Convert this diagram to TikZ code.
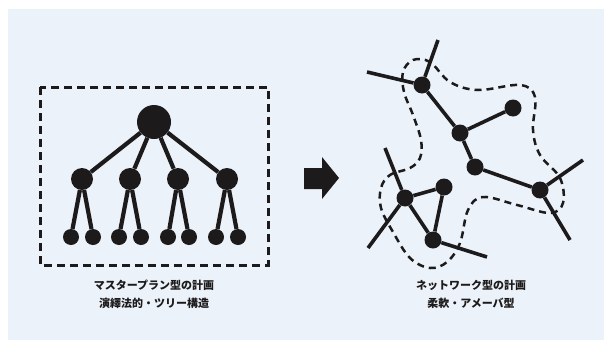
\documentclass[tikz,border=0pt]{standalone}
\usepackage{fontspec}
\newfontfamily\jp{Noto Sans CJK JP}
\definecolor{panel}{RGB}{236,242,250}
\definecolor{ink}{RGB}{28,26,26}
\tikzset{
  root/.style={circle,fill=ink,inner sep=0pt,minimum size=34pt},
  mid/.style={circle,fill=ink,inner sep=0pt,minimum size=22pt},
  leaf/.style={circle,fill=ink,inner sep=0pt,minimum size=16pt},
  net/.style={circle,fill=ink,inner sep=0pt,minimum size=17pt},
  treeedge/.style={draw=ink,line width=4.2pt},
  netedge/.style={draw=ink,line width=3.6pt},
  boxdash/.style={draw=ink,line width=3pt,dash pattern=on 8pt off 5pt},
  blobdash/.style={draw=ink,line width=2.5pt,dash pattern=on 7pt off 5pt},
  caption/.style={font=\jp\bfseries\fontsize{11pt}{18pt}\selectfont,text=ink,align=center,inner sep=0pt}
}
\begin{document}
\begin{tikzpicture}[x=1pt,y=-1pt]
\useasboundingbox (0,0) rectangle (604,340);
\fill[white] (0,0) rectangle (604,340);
\fill[panel] (8,9) rectangle (604,340);

% left: hierarchical tree
\draw[boxdash] (40,87) rectangle (268,265);
\node[root] (r) at (154,122) {};
\foreach \i/\x in {1/82,2/130,3/178,4/227}{
  \node[mid] (m\i) at (\x,179) {};
}
\foreach \i/\x in {1/71,2/93,3/119,4/141,5/168,6/189,7/216,8/238}{
  \node[leaf] (l\i) at (\x,237) {};
}
\foreach \i in {1,2,3,4}{ \draw[treeedge] (r) -- (m\i); }
\draw[treeedge] (m1) -- (l1); \draw[treeedge] (m1) -- (l2);
\draw[treeedge] (m2) -- (l3); \draw[treeedge] (m2) -- (l4);
\draw[treeedge] (m3) -- (l5); \draw[treeedge] (m3) -- (l6);
\draw[treeedge] (m4) -- (l7); \draw[treeedge] (m4) -- (l8);

% arrow
\fill[ink] (304,168) -- (322,168) -- (322,157) -- (339,178) -- (322,199) -- (322,189) -- (304,189) -- cycle;

% right: network
\draw[blobdash] plot[smooth cycle,tension=0.6] coordinates {
 (403,72) (413,60) (430,62) (450,82) (478,90) (520,85) (535,97) (533,130)
 (540,155) (560,178) (563,203) (550,213) (517,205) (483,197) (468,210)
 (460,243) (447,262) (430,268) (410,258) (393,232) (381,208) (381,188)
 (390,175) (410,168) (420,158) (421,140) (413,115) (404,92)};

\node[net] (A) at (422,85) {};
\node[net] (B) at (513,108) {};
\node[net] (C) at (460,133) {};
\node[net] (D) at (475,167) {};
\node[net] (E) at (540,190) {};
\node[net] (F) at (405,198) {};
\node[net] (G) at (444,187) {};
\node[net] (H) at (433,240) {};
\coordinate (a1) at (438,40);
\coordinate (a2) at (367,72);
\coordinate (e1) at (583,160);
\coordinate (e2) at (570,240);
\coordinate (f1) at (385,148);
\coordinate (f2) at (368,248);
\coordinate (h1) at (487,257);

\draw[netedge] (A) -- (a1);
\draw[netedge] (A) -- (a2);
\draw[netedge] (A) -- (C);
\draw[netedge] (C) -- (B);
\draw[netedge] (C) -- (D);
\draw[netedge] (D) -- (E);
\draw[netedge] (E) -- (e1);
\draw[netedge] (E) -- (e2);
\draw[netedge] (F) -- (f1);
\draw[netedge] (F) -- (f2);
\draw[netedge] (F) -- (G);
\draw[netedge] (F) -- (H);
\draw[netedge] (G) -- (H);
\draw[netedge] (H) -- (h1);

% captions
\node[caption] (cap1) at (154,294) {マスタープラン型の計画\\演繹法的・ツリー構造};
\node[caption] (cap2) at (471,294) {ネットワーク型の計画\\柔軟・アメーバ型};
\end{tikzpicture}
\end{document}
